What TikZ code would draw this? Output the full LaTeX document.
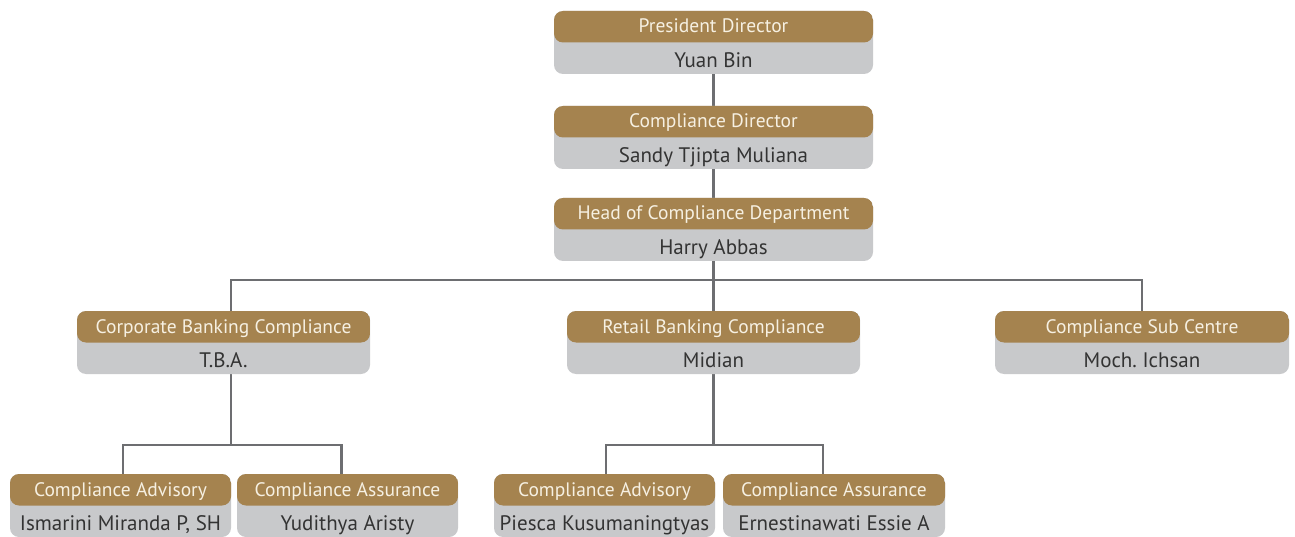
\documentclass[tikz,border=0pt]{standalone}
\usepackage{fontspec}
\usetikzlibrary{backgrounds}
\setmainfont{PT Sans}
\frenchspacing
\definecolor{hdr}{HTML}{A5834F}
\definecolor{bodyc}{HTML}{C8C9CB}
\definecolor{conn}{HTML}{6D6E71}
\definecolor{hdrtxt}{HTML}{F6F0E2}
\definecolor{nametxt}{HTML}{333333}
\tikzset{
  x=1pt, y=-1pt,
  orgbox/.style={rectangle, rounded corners=9pt, fill=bodyc, inner sep=0pt, minimum height=63pt,
    path picture={\fill[hdr] (path picture bounding box.north west) rectangle (path picture bounding box.east);}},
  hdrtext/.style={anchor=base, inner sep=0pt, text=hdrtxt, font=\fontsize{19.5}{19.5}\selectfont},
  nametext/.style={anchor=base, inner sep=0pt, text=nametxt, font=\fontsize{21}{21}\selectfont},
  link/.style={draw=conn, line width=2.4pt}
}
\newcommand\orgbox[6]{%
  \node[orgbox, minimum width={(#4-#2)*1pt}] (#1) at ({(#2+#4)/2},{#3+31.5}) {};
  \node[hdrtext] (#1-t) at ({(#2+#4)/2},{#3+22}) {#5};
  \node[nametext] (#1-n) at ({(#2+#4)/2},{#3+56.5}) {#6};
}
\begin{document}
\begin{tikzpicture}
\useasboundingbox (0,0) rectangle (1295,537);
\orgbox{pres}{554}{11}{873}{President Director}{Yuan Bin}
\orgbox{cd}{554}{106}{873}{Compliance Director}{Sandy Tjipta Muliana}
\orgbox{head}{554}{198}{873}{Head of Compliance Department}{Harry Abbas}
\orgbox{corp}{77}{311}{370}{Corporate Banking Compliance}{T.B.A.}
\orgbox{retail}{567}{311}{860}{Retail Banking Compliance}{Midian}
\orgbox{sub}{995}{311}{1289}{Compliance Sub Centre}{Moch. Ichsan}
\orgbox{adva}{10}{474}{231}{Compliance Advisory}{Ismarini Miranda P, SH}
\orgbox{assa}{237}{474}{458}{Compliance Assurance}{Yudithya Aristy}
\orgbox{advb}{494}{474}{715}{Compliance Advisory}{Piesca Kusumaningtyas}
\orgbox{assb}{723}{474}{945}{Compliance Assurance}{Ernestinawati Essie A}
\coordinate (bus1) at (713.5,280);
\coordinate (bus2) at (231,445);
\coordinate (bus3) at (713.5,445);
\begin{scope}[on background layer]
\draw[link] (pres.south) -- (cd.north);
\draw[link] (cd.south) -- (head.north);
\draw[link] (head.south) -- (bus1);
\draw[link] (bus1) -| ([xshift=7.5pt]corp.north);
\draw[link] (bus1) -- (retail.north);
\draw[link] (bus1) -| (sub.north);
\draw[link] ([xshift=7.5pt]corp.south) -- (bus2);
\draw[link] (bus2) -| ([xshift=2.5pt]adva.north);
\draw[link] (bus2) -| ([xshift=-6pt]assa.north);
\draw[link] (retail.south) -- (bus3);
\draw[link] (bus3) -| ([xshift=1.5pt]advb.north);
\draw[link] (bus3) -| ([xshift=-11pt]assb.north);
\end{scope}
\end{tikzpicture}
\end{document}
